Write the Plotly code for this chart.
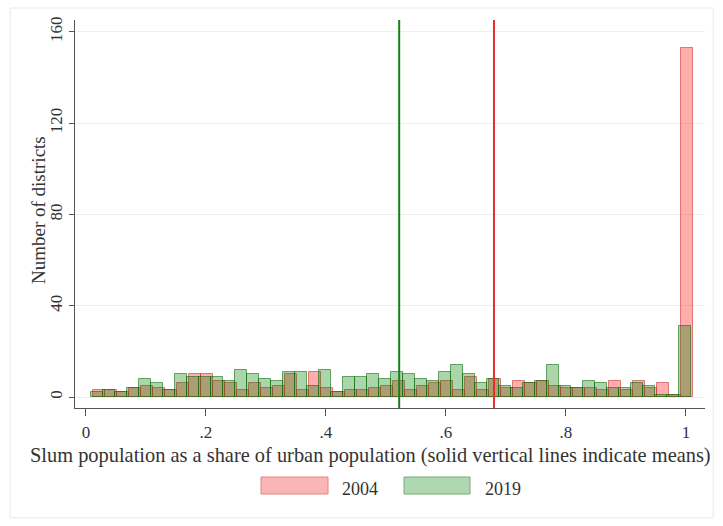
import numpy as np
import plotly.graph_objects as go

# Histogram bins (share of urban population living in slums)
BIN_WIDTH = 0.02
START_2004 = 0.0117
START_2019 = 0.0083

# Number of districts per bin
counts_2004 = [3, 3, 2, 4, 5, 4, 3, 6, 10, 10,
               7, 6, 3, 6, 4, 5, 10, 3, 11, 4,
               2, 3, 3, 4, 5, 7, 3, 5, 6, 7,
               3, 9, 3, 8, 4, 7, 6, 7, 5, 4,
               4, 4, 3, 7, 3, 7, 4, 6, 1, 153]
counts_2019 = [2, 3, 2, 4, 8, 6, 3, 10, 9, 9,
               9, 7, 12, 10, 8, 7, 11, 11, 5, 12,
               2, 9, 9, 10, 8, 11, 10, 8, 7, 11,
               14, 10, 6, 8, 5, 4, 6, 7, 14, 5,
               4, 7, 6, 4, 4, 6, 5, 1, 1, 31]

# Sample means (solid vertical lines)
mean_2004 = 0.680
mean_2019 = 0.522

x_ticks = [0, 0.2, 0.4, 0.6, 0.8, 1]
x_tick_labels = ["0", ".2", ".4", ".6", ".8", "1"]
y_ticks = [0, 40, 80, 120, 160]
y_tick_labels = ["0", "40", "80", "120", "160"]
series_names = ["2004", "2019"]

FONT = "Liberation Serif"
TEXT = "#333333"

RED_FILL = "rgba(255,0,0,0.32)"
RED_EDGE = "rgba(200,40,40,0.55)"
GREEN_FILL = "rgba(0,128,0,0.33)"
GREEN_EDGE = "rgba(0,100,0,0.55)"


def centers(start, n):
    return start + BIN_WIDTH * (np.arange(n) + 0.5)


fig = go.Figure()
fig.add_trace(go.Bar(
    x=centers(START_2004, len(counts_2004)), y=counts_2004, width=BIN_WIDTH,
    name=series_names[0],
    marker=dict(color=RED_FILL, line=dict(color=RED_EDGE, width=1)),
))
fig.add_trace(go.Bar(
    x=centers(START_2019, len(counts_2019)), y=counts_2019, width=BIN_WIDTH,
    name=series_names[1],
    marker=dict(color=GREEN_FILL, line=dict(color=GREEN_EDGE, width=1)),
))

shapes = [
    # mean lines
    dict(type="line", xref="x", yref="paper", x0=mean_2019, x1=mean_2019, y0=0, y1=1,
         line=dict(color="rgb(20,130,20)", width=2)),
    dict(type="line", xref="x", yref="paper", x0=mean_2004, x1=mean_2004, y0=0, y1=1,
         line=dict(color="rgb(235,45,45)", width=2)),
    # outer frame of the graph region
    dict(type="rect", xref="paper", yref="paper", x0=-0.103, x1=1.013, y0=-0.283, y1=1.031,
         line=dict(color="#e8e8e8", width=1), fillcolor="rgba(0,0,0,0)", layer="below"),
]

# legend keys drawn below the axis title
PLOT_L, PLOT_W, PLOT_B, PLOT_H = 75, 630, 408, 388


def px_x(p):
    return (p - PLOT_L) / PLOT_W


def px_y(p):
    return (PLOT_B - p) / PLOT_H


legend_items = [
    (series_names[0], 261, 328, "rgb(250,182,182)", "rgb(232,130,130)", 340),
    (series_names[1], 404, 470, "rgb(176,216,176)", "rgb(120,170,120)", 483),
]
annotations = []
for label, x0, x1, fill, edge, tx in legend_items:
    shapes.append(dict(type="rect", xref="paper", yref="paper",
                       x0=px_x(x0), x1=px_x(x1), y0=px_y(494), y1=px_y(477),
                       fillcolor=fill, line=dict(color=edge, width=1)))
    annotations.append(dict(xref="paper", yref="paper", x=px_x(tx), y=px_y(489),
                            text=label, showarrow=False, xanchor="left", yanchor="middle",
                            font=dict(family=FONT, size=18, color=TEXT)))

annotations.append(dict(
    xref="paper", yref="paper", x=px_x(38), y=px_y(210), xanchor="center", yanchor="middle",
    text="Number of districts", textangle=-90, showarrow=False,
    font=dict(family=FONT, size=19, color=TEXT)))
annotations.append(dict(
    xref="paper", yref="paper", x=px_x(28), y=px_y(455), xanchor="left", yanchor="middle",
    text="Slum population as a share of urban population (solid vertical lines indicate means)",
    showarrow=False, font=dict(family=FONT, size=20.4, color=TEXT)))

fig.update_layout(
    width=723, height=526,
    margin=dict(l=75, r=18, t=20, b=118, pad=0),
    paper_bgcolor="white", plot_bgcolor="white",
    barmode="overlay", bargap=0,
    showlegend=False,
    shapes=shapes, annotations=annotations,
    font=dict(family=FONT, color=TEXT),
)
fig.update_xaxes(
    range=[-0.0183, 1.0317], tickvals=x_ticks, ticktext=x_tick_labels,
    ticks="outside", ticklen=7, tickcolor="#555555", tickwidth=1,
    showline=True, linecolor="#555555", linewidth=1,
    showgrid=False, zeroline=False,
    tickfont=dict(family=FONT, size=17, color=TEXT), ticklabelstandoff=2,
)
fig.update_yaxes(
    range=[-4.8, 165.2], tickvals=y_ticks, ticktext=y_tick_labels, tickangle=-90,
    ticks="outside", ticklen=5, tickcolor="#555555", tickwidth=1,
    showline=True, linecolor="#555555", linewidth=1,
    showgrid=True, gridcolor="#efefef", gridwidth=1, zeroline=False,
    tickfont=dict(family=FONT, size=17, color=TEXT), ticklabelstandoff=0,
)

fig.write_html("out.html")
